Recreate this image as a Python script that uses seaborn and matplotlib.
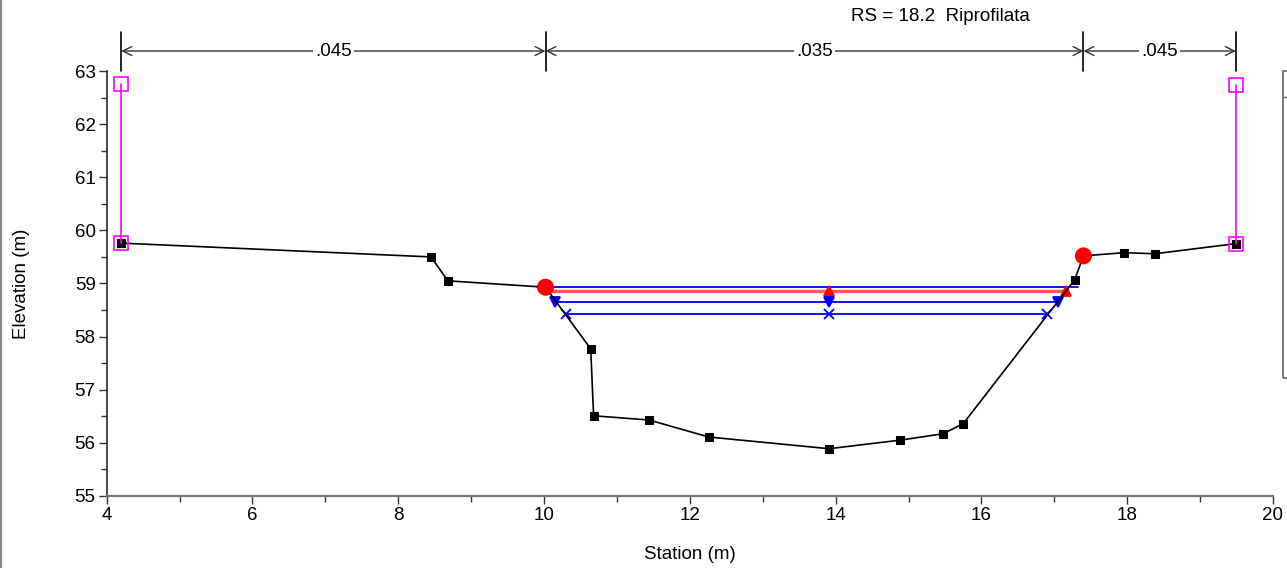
import matplotlib
matplotlib.use('Agg')
import matplotlib.pyplot as plt
import seaborn as sns
import pandas as pd
from matplotlib.patches import Rectangle
from matplotlib.lines import Line2D
from matplotlib.ticker import MultipleLocator

# dati della sezione RS 18.2
ground_sta = [4.20, 8.45, 8.68, 10.02, 10.64, 10.68, 11.44, 12.26, 13.91,
              14.88, 15.47, 15.75, 17.28, 17.40, 17.96, 18.38, 19.49]
ground_elev = [59.76, 59.50, 59.05, 58.93, 57.77, 56.51, 56.43, 56.11, 55.89,
               56.05, 56.17, 56.36, 59.07, 59.52, 59.58, 59.56, 59.75]

bank_sta = [10.02, 17.40]
bank_elev = [58.93, 59.52]

# argini / aree inefficaci (magenta)
levee_sta = [4.20, 19.49]
levee_bot = [59.76, 59.75]
levee_top = [62.75, 62.73]

# coefficienti di Manning
mann_sta = [4.20, 10.02, 17.40, 19.49]
mann_n = ['.045', '.035', '.045']

# profili di pelo libero: quota, stazione sx, stazione dx
ws_elev = [58.93, 58.86, 58.66, 58.43]
ws_left = [9.90, 10.02, 10.15, 10.30]
ws_right = [17.32, 17.16, 17.05, 16.90]
ws_mid = 13.91

FS = 13.5

sns.set_theme(style='ticks')
plt.rcParams['font.family'] = ['Liberation Sans', 'DejaVu Sans']
plt.rcParams['text.color'] = 'black'
plt.rcParams['axes.labelcolor'] = 'black'

fig = plt.figure(figsize=(12.87, 5.68), dpi=100)
ax = fig.add_axes([0.0829, 0.1268, 0.9062, 0.7482])

# pelo libero
ws_styles = [
    dict(color='#0000ff', lw=1.3, marker=None, ms=0, mcol='#0000ff'),
    dict(color='#ff5a5a', lw=2.4, marker='^', ms=7, mcol='#ff0000'),
    dict(color='#0000ff', lw=1.3, marker='v', ms=7, mcol='#0000ff'),
    dict(color='#0000ff', lw=1.3, marker='x', ms=7, mcol='#0000ff'),
]
for i, (z, xl, xr, st) in enumerate(zip(ws_elev, ws_left, ws_right, ws_styles)):
    df = pd.DataFrame({'x': [xl, xr], 'y': [z, z]})
    sns.lineplot(data=df, x='x', y='y', ax=ax, color=st['color'], lw=st['lw'],
                 estimator=None, sort=False, zorder=2)
    if st['marker'] is not None:
        # il marker sinistro del profilo rosso sta sotto il punto di sponda
        xs = [ws_mid, xr] if i == 1 else [xl, ws_mid, xr]
        ax.plot(xs, [z] * len(xs), ls='none', marker=st['marker'], ms=st['ms'],
                color=st['mcol'], mew=1.3, zorder=3)

# terreno
gdf = pd.DataFrame({'sta': ground_sta, 'elev': ground_elev})
sns.lineplot(data=gdf, x='sta', y='elev', ax=ax, color='black', lw=1.2,
             marker='s', markersize=6, markeredgecolor='black',
             estimator=None, sort=False, zorder=4)

# argini magenta
for s, b, t in zip(levee_sta, levee_bot, levee_top):
    ax.plot([s, s], [b, t], color='#ff00ff', lw=1.2, marker='s', ms=10,
            mfc='none', mec='#ff00ff', mew=1.2, zorder=5)

# sponde
sns.scatterplot(x=bank_sta, y=bank_elev, ax=ax, color='#ff0000', s=150,
                edgecolor='none', zorder=6)

ax.set_xlim(4, 20)
ax.set_ylim(55, 63)
ax.xaxis.set_major_locator(MultipleLocator(2))
ax.xaxis.set_minor_locator(MultipleLocator(1))
ax.yaxis.set_major_locator(MultipleLocator(1))
ax.yaxis.set_minor_locator(MultipleLocator(0.5))
ax.tick_params(which='major', direction='out', length=6, width=1, labelsize=FS,
               color='#333333', labelcolor='black', pad=2)
ax.tick_params(which='minor', direction='out', length=4, width=1, color='#333333')
for side in ['top', 'right']:
    ax.spines[side].set_visible(False)
ax.spines['left'].set_color('#333333')
ax.spines['bottom'].set_color('#777777')
ax.spines['bottom'].set_linewidth(1.6)
ax.set_xlabel('Station (m)', fontsize=FS, labelpad=16)
ax.set_ylabel('Elevation (m)', fontsize=FS, labelpad=32)
ax.grid(False)

# barra dei coefficienti di Manning sopra il grafico
tr = ax.get_xaxis_transform()
for s in mann_sta:
    ax.plot([s, s], [1.0, 1.092], transform=tr, color='black', lw=1.2, clip_on=False)
for i, n in enumerate(mann_n):
    x0, x1 = mann_sta[i], mann_sta[i + 1]
    ax.annotate('', xy=(x0, 1.047), xytext=(x1, 1.047), xycoords=tr, textcoords=tr,
                arrowprops=dict(arrowstyle='<->', color='#333333', lw=1.0,
                                shrinkA=0, shrinkB=0, mutation_scale=16),
                annotation_clip=False)
    ax.text((x0 + x1) / 2, 1.047, n, transform=tr, ha='center', va='center',
            fontsize=FS, bbox=dict(facecolor='white', edgecolor='none', pad=1.5),
            zorder=10, clip_on=False)

fig.text(0.731, 0.971, 'RS = 18.2  Riprofilata', ha='center', va='center', fontsize=FS)

# riquadro legenda tagliato a destra e bordo finestra
fig.add_artist(Rectangle((0.9969, 0.3345), 0.05, 0.5405, transform=fig.transFigure,
                         facecolor='none', edgecolor='#666666', lw=1.2, clip_on=False))
fig.add_artist(Line2D([0.9969, 1.0], [0.829, 0.829], transform=fig.transFigure,
                      color='#666666', lw=1.0))
fig.add_artist(Line2D([0.001, 0.001], [0, 1], transform=fig.transFigure,
                      color='#888888', lw=1.5))

fig.savefig('out.png', dpi=100)
